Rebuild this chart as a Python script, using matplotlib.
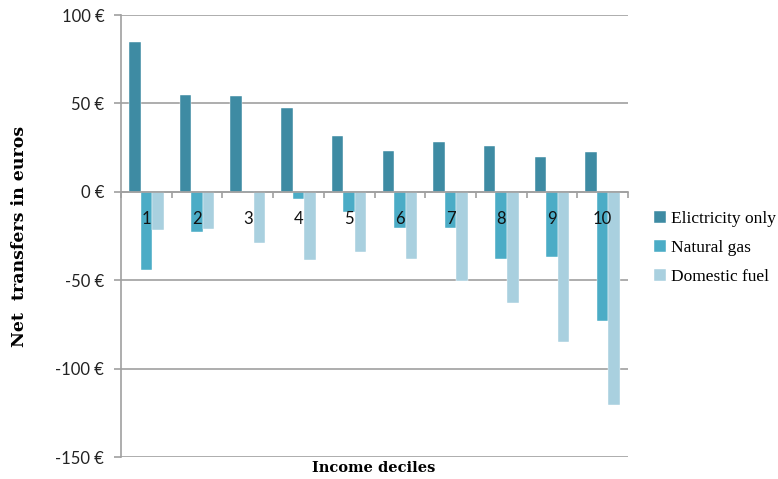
import numpy as np
import matplotlib.pyplot as plt
from matplotlib.font_manager import FontProperties
from matplotlib.ticker import FixedLocator

deciles = ["1", "2", "3", "4", "5", "6", "7", "8", "9", "10"]
electricity_only = [85, 55, 54, 47.5, 31.5, 23, 28.3, 25.7, 19.6, 22.7]
natural_gas = [-44.5, -23, 0.5, -4, -11.5, -20.2, -20.2, -37.8, -37, -73]
domestic_fuel = [-21.5, -21, -29, -38.5, -34, -37.8, -50.5, -63, -85, -120.5]

series_names = ["Elictricity only", "Natural gas", "Domestic fuel"]
colors = ["#3E8BA3", "#4BACC6", "#A9D0DF"]

fig = plt.figure(figsize=(7.78, 4.79), dpi=100)
ax = fig.add_axes([121 / 778, 1 - 457 / 479, (628 - 121) / 778, (457 - 15) / 479])

x = np.arange(len(deciles))
w = 0.227
for i, (vals, name, col) in enumerate(zip([electricity_only, natural_gas, domestic_fuel],
                                          series_names, colors)):
    ax.bar(x + (i - 1) * w, vals, width=w, color=col, label=name,
           edgecolor="white", linewidth=0.3, zorder=3)

ax.set_xlim(-0.5, len(deciles) - 0.5)
ax.set_ylim(-150, 100)
ax.set_yticks([-150, -100, -50, 0, 50, 100])
ax.set_yticklabels([f"{v} €" for v in [-150, -100, -50, 0, 50, 100]],
                   fontfamily="Lato", fontsize=12, color="#222222")
ax.yaxis.grid(True, color="#A0A0A0", linewidth=1.2, zorder=0)
ax.tick_params(axis="y", length=5, color="#A0A0A0", width=1.2, pad=7)

# category axis crossing at zero, labels drawn on top of the bars
ax.spines["bottom"].set_position(("data", 0))
ax.spines["bottom"].set_color("#A0A0A0")
ax.spines["bottom"].set_linewidth(1.2)
ax.spines["bottom"].set_zorder(4)
ax.spines["left"].set_color("#A0A0A0")
ax.spines["left"].set_linewidth(1.2)
ax.spines["top"].set_visible(False)
ax.spines["right"].set_visible(False)
ax.xaxis.set_zorder(5)

ax.set_xticks(x)
ax.set_xticklabels(deciles, fontfamily="Lato", fontsize=12, color="#111111")
ax.tick_params(axis="x", which="major", length=0, pad=14)
ax.xaxis.set_minor_locator(FixedLocator(np.arange(-0.5, len(deciles), 1.0)))
ax.tick_params(axis="x", which="minor", length=4, color="#A0A0A0", width=1.2, direction="out")

ax.set_ylabel("Net  transfers in euros", fontfamily="DejaVu Serif", fontweight="bold",
              fontsize=12.5)
ax.yaxis.set_label_coords(-0.183, 0.5)
fig.text(374 / 778, 1 - 468 / 479, "Income deciles", fontfamily="DejaVu Serif",
         fontweight="bold", fontsize=10.5, ha="center", va="center")

legend_font = FontProperties(family=["Liberation Serif", "DejaVu Serif"], size=12.5)
ax.legend(loc="center left", bbox_to_anchor=(1.051, 0.473), frameon=False,
          borderpad=0, borderaxespad=0, prop=legend_font,
          handlelength=0.7, handleheight=0.7, handletextpad=0.3, labelspacing=0.73)

fig.savefig("out.png", dpi=100)
